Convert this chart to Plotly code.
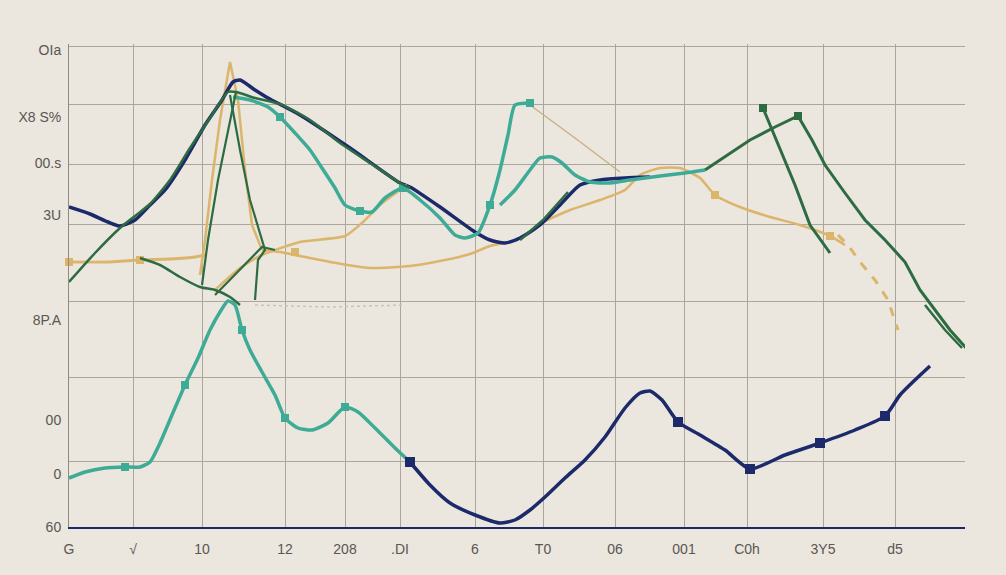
import plotly.graph_objects as go

# ---- axis ticks ----
x_tick_vals = [0, 6.4, 13.3, 21.6, 27.6, 33.1, 40.6, 47.4, 54.6, 61.5, 67.8, 75.4, 82.6]
x_tick_text = ["G", "√", "10", "12", "208", ".DI", "6", "T0", "06", "001", "C0h", "3Y5", "d5"]
y_grid_vals = [0, 6.6, 15.0, 22.6, 30.3, 36.3, 42.3, 48.1]
y_tick_vals = [0, 5.3, 10.7, 20.7, 31.2, 36.4, 41.0, 47.7]
y_tick_text = ["60", "0", "00", "8P.A", "3U", "00.s", "X8 S%", "OIa"]

# ---- navy series ----
navy_up_x = [0, 2.1, 3.9, 5.1, 6.6, 8.1, 9.6, 11.6, 13.6, 15.3, 16.4, 17.1, 18.6, 19.9, 23.1, 28.1, 33.1, 34.1,
             37.1, 40.6, 42.1, 43.6, 45.1, 47.1, 49.1, 51.1, 53.1, 55.6, 58.1]
navy_up_y = [32.0, 31.3, 30.5, 30.1, 30.7, 32.2, 33.7, 36.7, 40.2, 42.7, 44.5, 44.7, 43.7, 42.9, 41.2, 37.9, 34.4, 34.0,
             32.0, 29.5, 28.7, 28.4, 28.9, 30.2, 32.2, 34.2, 34.7, 34.9, 35.0]
navy_low_x = [34.1, 36.1, 38.1, 40.6, 43.1, 44.6, 46.1, 47.6, 49.6, 51.6, 53.6, 55.6, 57.1, 58.1, 59.3, 60.9, 63.1,
              65.6, 68.1, 71.6, 75.1, 78.6, 81.6, 83.1, 84.6, 86.1]
navy_low_y = [6.5, 4.2, 2.4, 1.2, 0.4, 0.7, 1.7, 3.0, 4.9, 6.7, 9.0, 11.9, 13.4, 13.6, 12.7, 10.5, 9.2,
              7.7, 5.8, 7.2, 8.4, 9.7, 11.1, 13.2, 14.7, 16.1]
navy_mark_x = [34.1, 60.9, 68.1, 75.1, 81.6]
navy_mark_y = [6.5, 10.5, 5.8, 8.4, 11.1]

# ---- teal series ----
teal_low_x = [0, 1.6, 3.6, 5.6, 7.1, 8.1, 9.1, 10.3, 11.6, 12.9, 14.1, 15.1, 15.9, 16.6, 17.3, 18.1, 19.3, 20.6,
              21.6, 22.9, 24.3, 25.9, 27.6, 28.9, 30.6, 32.6, 34.1]
teal_low_y = [4.9, 5.5, 5.9, 6.0, 6.0, 6.5, 8.4, 11.2, 14.2, 16.9, 19.7, 21.5, 22.6, 22.2, 19.7, 17.7, 15.5, 13.2,
              10.9, 9.9, 9.7, 10.4, 12.0, 11.5, 9.9, 7.9, 6.5]
teal_low_mark_x = [5.6, 11.6, 17.3, 21.6, 27.6]
teal_low_mark_y = [6.0, 14.2, 19.7, 10.9, 12.0]
teal_up_x = [16.4, 18.1, 19.9, 21.1, 22.6, 24.1, 25.3, 26.6, 27.6, 29.1, 30.3, 31.6, 33.4, 35.1, 37.1, 38.6, 39.6,
             40.9, 42.1, 43.1, 43.9, 44.6, 46.1]
teal_up_y = [43.0, 42.7, 42.0, 41.0, 39.4, 37.7, 35.9, 33.9, 32.2, 31.6, 31.5, 32.9, 33.9, 32.7, 30.9, 29.2, 28.9,
             29.4, 32.2, 35.7, 39.2, 42.2, 42.4]
teal_up_mark_x = [21.1, 29.1, 33.4, 42.1, 46.1]
teal_up_mark_y = [41.0, 31.6, 33.9, 32.2, 42.4]
teal_mid_x = [43.1, 44.6, 46.1, 47.1, 48.3, 49.3, 50.6, 52.1, 54.1, 56.1, 59.1, 61.6, 63.6]
teal_mid_y = [32.2, 33.7, 35.7, 36.9, 37.0, 36.4, 35.2, 34.5, 34.4, 34.7, 35.1, 35.4, 35.7]

# ---- green series ----
green_main_x = [0, 2.6, 5.1, 6.6, 8.1, 10.1, 12.1, 14.1, 15.9, 16.7, 18.6, 21.1, 24.1, 27.1, 30.1, 33.1, 34.1]
green_main_y = [24.5, 27.4, 29.9, 31.1, 32.3, 34.7, 37.9, 40.9, 43.5, 43.5, 42.9, 42.3, 40.7, 38.4, 36.4, 34.4, 33.9]
green_right_x = [63.6, 65.6, 68.1, 70.6, 72.9, 74.3, 75.6, 77.6, 79.6, 81.6, 83.6, 85.1, 86.6, 88.1, 89.9]
green_right_y = [35.7, 37.0, 38.7, 40.0, 41.1, 38.7, 36.2, 33.4, 30.7, 28.7, 26.5, 23.7, 21.7, 19.7, 17.7]
green_drop_x = [69.4, 70.9, 72.6, 74.1, 76.1]
green_drop_y = [41.9, 38.2, 34.2, 30.2, 27.4]
green_tail_x = [85.6, 87.6, 89.3]
green_tail_y = [22.2, 19.7, 17.9]
green_rise_x = [45.1, 47.4, 49.9]
green_rise_y = [28.7, 30.7, 33.5]
green_low_x = [7.1, 9.1, 11.1, 13.1, 14.6, 16.1, 17.1]
green_low_y = [26.9, 26.2, 25.0, 24.0, 23.7, 23.0, 22.2]
green_steep_x = [16.7, 15.9, 14.9, 13.9, 13.3]
green_steep_y = [43.5, 39.7, 34.7, 28.7, 24.2]
green_fall_x = [16.1, 17.1, 18.1, 19.3, 19.6, 18.9, 18.6]
green_fall_y = [43.2, 37.7, 32.7, 28.7, 27.7, 26.7, 22.7]
green_cross_x = [14.6, 17.1, 19.3, 20.6]
green_cross_y = [23.2, 25.7, 28.0, 27.7]

# ---- gold series ----
gold_left_x = [0, 4.1, 7.1, 10.1, 12.6, 13.6]
gold_left_y = [26.5, 26.5, 26.7, 26.8, 27.0, 27.2]
gold_peak_x = [13.1, 13.6, 14.3, 15.1, 16.1, 16.9, 17.6, 18.3, 19.3]
gold_peak_y = [25.2, 28.7, 34.7, 40.7, 46.5, 42.7, 35.7, 30.2, 27.7]
gold_mid_x = [19.3, 21.1, 23.1, 26.1, 30.1, 34.1, 37.1, 40.1, 42.1, 44.1]
gold_mid_y = [27.7, 27.5, 27.1, 26.5, 25.9, 26.1, 26.6, 27.3, 28.1, 28.5]
gold_up_x = [14.6, 17.1, 19.3, 23.1, 27.6, 29.4, 31.1, 33.1]
gold_up_y = [23.7, 25.9, 27.2, 28.5, 29.1, 30.5, 32.2, 33.7]
gold_right_x = [47.4, 50.1, 53.1, 55.6, 57.1, 59.1, 61.1, 63.1, 64.6, 67.1, 70.1, 73.1, 76.1, 77.6]
gold_right_y = [30.5, 31.7, 32.7, 33.7, 35.2, 35.9, 35.9, 34.9, 33.2, 32.0, 31.0, 30.2, 29.1, 28.2]
gold_dash_x = [76.9, 77.9, 79.1, 80.6, 81.9, 82.9]
gold_dash_y = [29.2, 28.2, 26.5, 24.7, 22.7, 19.7]
gold_mark_x = [0, 7.1, 22.6, 64.6, 76.1]
gold_mark_y = [26.5, 26.7, 27.5, 33.2, 29.1]
tan_thin_x = [46.1, 50.6, 55.1]
tan_thin_y = [42.2, 38.9, 35.5]
dot_x = [18.6, 26.0, 33.6]
dot_y = [22.2, 22.0, 22.2]

NAVY = "#1c2a6b"
TEAL = "#3eab96"
GREEN = "#2d6b42"
GOLD = "#dcb56c"
BG = "#ebe6de"
GRID = "#aaa59d"

fig = go.Figure()


def line(x, y, color, width, dash="solid", shape="spline", opacity=1.0):
    fig.add_trace(go.Scatter(x=x, y=y, mode="lines", line=dict(color=color, width=width, dash=dash,
                                                               shape=shape, smoothing=0.6),
                             opacity=opacity, hoverinfo="skip", showlegend=False))


def marks(x, y, color, size, symbol="square"):
    fig.add_trace(go.Scatter(x=x, y=y, mode="markers", marker=dict(color=color, size=size, symbol=symbol),
                             hoverinfo="skip", showlegend=False, cliponaxis=False))


line(dot_x, dot_y, "#c9c2b6", 1.5, dash="dot", shape="linear")
line(tan_thin_x, tan_thin_y, "#c8ad80", 1.2, shape="linear")
line(gold_left_x, gold_left_y, GOLD, 3)
line(gold_peak_x, gold_peak_y, GOLD, 2.5, shape="linear")
line(gold_mid_x, gold_mid_y, GOLD, 2.5)
line(gold_up_x, gold_up_y, GOLD, 2.5)
line(gold_right_x, gold_right_y, GOLD, 2.5)
line(gold_dash_x, gold_dash_y, GOLD, 3, dash="dash", shape="linear")
marks(gold_mark_x, gold_mark_y, GOLD, 8)

line(navy_up_x, navy_up_y, NAVY, 3.5)
line(teal_up_x, teal_up_y, TEAL, 3.5)
line(teal_mid_x, teal_mid_y, TEAL, 3.5)
marks(teal_up_mark_x, teal_up_mark_y, TEAL, 8)

line(green_main_x, green_main_y, GREEN, 2.5)
line(green_right_x, green_right_y, GREEN, 3, shape="linear")
line(green_drop_x, green_drop_y, GREEN, 3, shape="linear")
line(green_tail_x, green_tail_y, GREEN, 2.5, shape="linear")
line(green_rise_x, green_rise_y, GREEN, 2.5, shape="linear")
line(green_low_x, green_low_y, GREEN, 2.5)
line(green_steep_x, green_steep_y, GREEN, 2.2, shape="linear")
line(green_fall_x, green_fall_y, GREEN, 2.2, shape="linear")
line(green_cross_x, green_cross_y, GREEN, 2.2, shape="linear")
marks([72.9, 69.4], [41.1, 41.9], GREEN, 8)

line(teal_low_x, teal_low_y, TEAL, 3.5)
marks(teal_low_mark_x, teal_low_mark_y, TEAL, 8)
line(navy_low_x, navy_low_y, NAVY, 3.5)
marks(navy_mark_x, navy_mark_y, NAVY, 10)

fig.add_annotation(x=90.1, y=14.6, text="x", showarrow=False, font=dict(color=GOLD, size=14),
                   xref="x", yref="y")

fig.update_layout(
    width=1006, height=575,
    margin=dict(l=69, r=41, t=44, b=48),
    paper_bgcolor=BG, plot_bgcolor=BG,
    font=dict(family="Liberation Sans, Arial, sans-serif", color="#5a5752", size=14),
    showlegend=False,
)
fig.update_xaxes(
    range=[0, 89.6], tickvals=x_tick_vals, ticktext=x_tick_text,
    showgrid=True, gridcolor=GRID, gridwidth=1, zeroline=False,
    showline=True, linecolor=NAVY, linewidth=2, ticks="", ticklabelstandoff=8,
)
fig.update_yaxes(
    range=[0, 48.3], tickvals=y_tick_vals, ticktext=y_tick_text,
    showgrid=False, zeroline=False,
    minor=dict(tickvals=y_grid_vals, showgrid=True, gridcolor=GRID, gridwidth=1, ticks=""),
    showline=True, linecolor="#8f8a83", linewidth=1, ticks="", ticklabelstandoff=4,
)

fig.write_html("out.html")
